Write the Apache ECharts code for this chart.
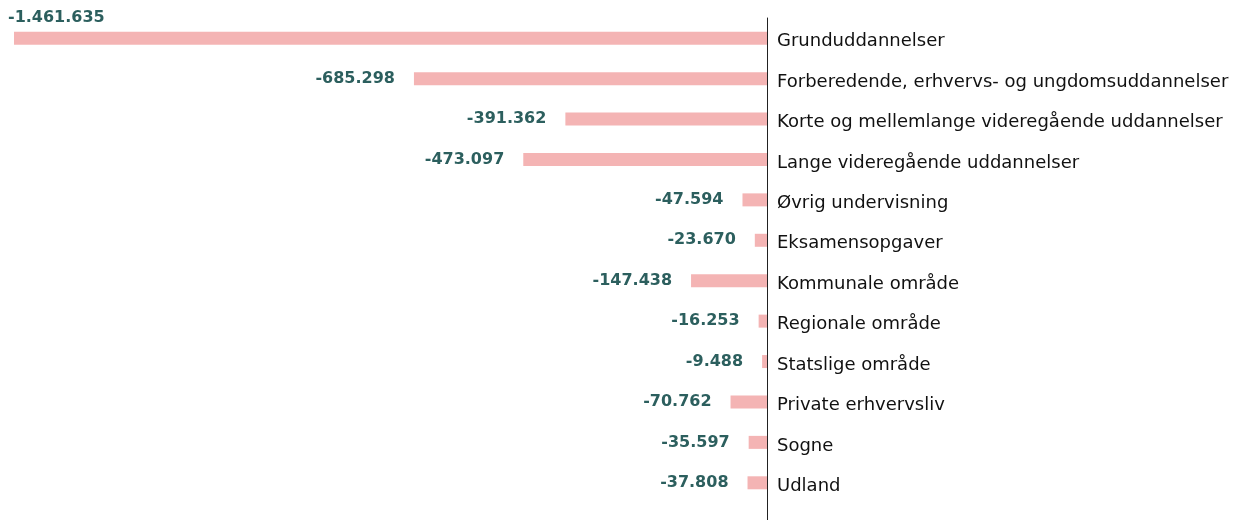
<!DOCTYPE html>
<html>
<head>
<meta charset="utf-8">
<script src="https://cdn.jsdelivr.net/npm/echarts@6/dist/echarts.min.js"></script>
<style>
  html, body { margin: 0; padding: 0; background: #fff; }
  #chart { width: 1235px; height: 520px; }
</style>
</head>
<body>
<div id="chart"></div>
<script>
var categories = [
    "Grunduddannelser",
    "Forberedende, erhvervs- og ungdomsuddannelser",
    "Korte og mellemlange videregående uddannelser",
    "Lange videregående uddannelser",
    "Øvrig undervisning",
    "Eksamensopgaver",
    "Kommunale område",
    "Regionale område",
    "Statslige område",
    "Private erhvervsliv",
    "Sogne",
    "Udland"
];
var values = [-1461635, -685298, -391362, -473097, -47594, -23670, -147438, -16253, -9488, -70762, -35597, -37808];

var barColor = '#f4b4b4';
var textColor = '#2c5f5e';
var fontFam = 'DejaVu Sans';

// tal med punktum som tusindtalsseparator
function fmt(v) {
    var s = Math.abs(v).toString().replace(/\B(?=(\d{3})+(?!\d))/g, '.');
    return (v < 0 ? '-' : '') + s;
}

var seriesData = values.map(function (v, i) {
    var item = { value: v };
    if (i === 0) {
        // den længste søjle: tallet står over søjlen
        item.label = { position: [-6, -22] };
    }
    return item;
});

var myChart = echarts.init(document.getElementById('chart'));
var option = {
    animation: false,
    grid: { left: 14, right: 468, top: 18, bottom: 17 },
    xAxis: {
        type: 'value',
        min: -1461635,
        max: 0,
        show: false
    },
    yAxis: {
        type: 'category',
        data: categories,
        inverse: true,
        position: 'right',
        axisTick: { show: false },
        axisLine: { lineStyle: { color: '#222', width: 1 } },
        axisLabel: {
            margin: 10,
            formatter: function (v) { return '{t|' + v + '}'; },
            rich: {
                t: {
                    color: '#111',
                    fontFamily: fontFam,
                    fontSize: 18,
                    padding: [7, 0, 0, 0]
                }
            }
        }
    },
    series: [{
        type: 'bar',
        data: seriesData,
        barWidth: 13,
        itemStyle: { color: barColor },
        label: {
            show: true,
            position: 'left',
            distance: 19,
            color: textColor,
            fontFamily: fontFam,
            fontWeight: 'bold',
            fontSize: 16,
            formatter: function (p) { return fmt(p.value); }
        }
    }]
};
myChart.setOption(option);

// aksen fortsætter ned til bunden af billedet
var x0 = myChart.convertToPixel({ xAxisIndex: 0 }, 0);
myChart.setOption({
    graphic: [{
        type: 'line',
        shape: { x1: Math.round(x0) + 0.5, y1: 503, x2: Math.round(x0) + 0.5, y2: 520 },
        style: { stroke: '#222', lineWidth: 1 }
    }]
});
</script>
</body>
</html>
